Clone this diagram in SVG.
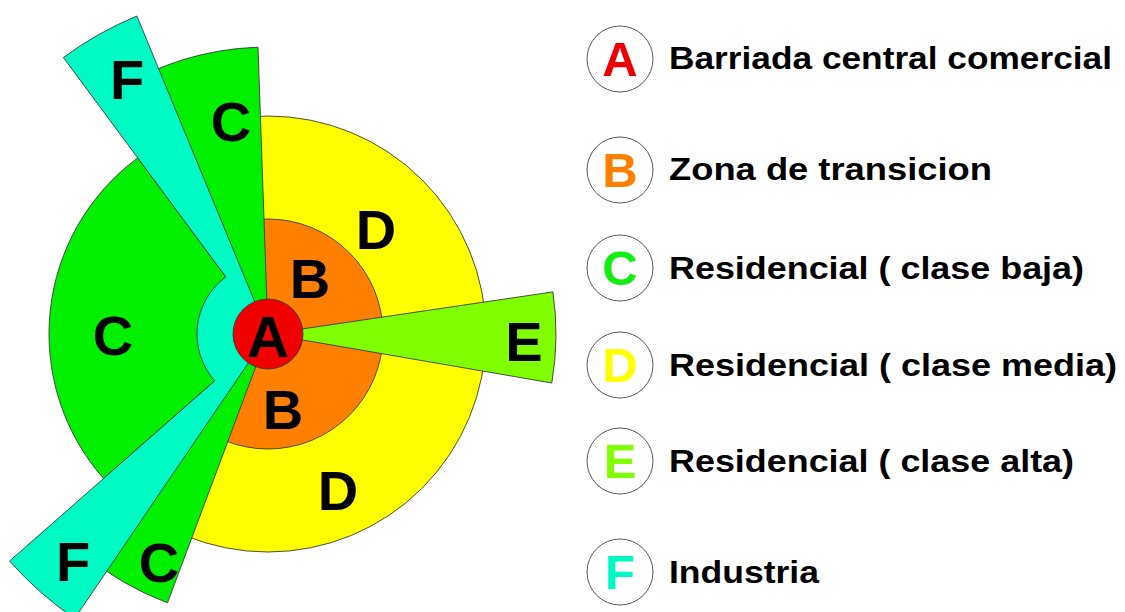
<svg xmlns="http://www.w3.org/2000/svg" width="1125" height="612" viewBox="0 0 1125 612">
<style>
.zone{stroke:#3a3a3a;stroke-width:0.9}
.lbl{font-family:"Liberation Sans",Arial,sans-serif;font-weight:bold;font-size:56px;fill:#000;text-anchor:middle}
.key{fill:#fff;stroke:#444;stroke-width:0.9}
.kl{font-family:"Liberation Sans",Arial,sans-serif;font-weight:bold;font-size:49px;text-anchor:middle}
.kt{font-family:"Liberation Sans",Arial,sans-serif;font-weight:bold;font-size:32px;fill:#000}
</style>
<rect width="1125" height="612" fill="#fff"/>
<g id="diagram">
  <g id="zone-D"><circle class="zone" cx="268" cy="334" r="218" fill="#ffff00"/></g>
  <g id="zone-B"><circle class="zone" cx="268" cy="334" r="115" fill="#ff8000"/></g>
  <g id="zone-C-left"><path class="zone" fill="#00f000" d="M268,334 L103.5,478.5 A219,219 0 0 1 137.7,157.9 Z"/></g>
  <g id="zone-C-top"><path class="zone" fill="#00f000" d="M268,334 L115.9,90.6 A287,287 0 0 1 258.0,47.2 Z"/></g>
  <g id="zone-C-bottom"><path class="zone" fill="#00f000" d="M268,334 L167.5,602.8 A287,287 0 0 1 83.5,553.8 Z"/></g>
  <g id="zone-F"><path class="zone" fill="#00fac4" d="M268,334 L136.9,16.0 A344,344 0 0 0 63.4,57.5 L225.8,276.9 A71,71 0 0 0 214.7,380.9 L9.6,561.0 A344,344 0 0 0 74.6,618.5 Z"/></g>
  <g id="zone-E"><path class="zone" fill="#80ff00" d="M268,334 L552.9,291.9 A288,288 0 0 1 551.8,383.0 Z"/></g>
  <g id="zone-A"><circle class="zone" cx="268" cy="334" r="35" fill="#f00000"/></g>
  <g id="labels">
    <text class="lbl" x="127" y="99">F</text>
    <text class="lbl" x="231" y="141">C</text>
    <text class="lbl" x="113" y="355">C</text>
    <text class="lbl" x="73" y="581">F</text>
    <text class="lbl" x="159" y="582">C</text>
    <text class="lbl" x="524" y="361">E</text>
    <text class="lbl" x="268" y="357" style="font-size:58px">A</text>
    <text class="lbl" x="310" y="298">B</text>
    <text class="lbl" x="376" y="249">D</text>
    <text class="lbl" x="283" y="429">B</text>
    <text class="lbl" x="338" y="510">D</text>
  </g>
</g>
<g id="connectors"></g>
<g id="legend">
  <g id="key-A"><circle class="key" cx="620" cy="59" r="33"/><text class="kl" x="620" y="76" fill="#ee0000">A</text><text class="kt" x="669" y="69" textLength="443" lengthAdjust="spacingAndGlyphs">Barriada central comercial</text></g>
  <g id="key-B"><circle class="key" cx="620" cy="170" r="33"/><text class="kl" x="620" y="187" fill="#ff8000">B</text><text class="kt" x="669" y="180" textLength="323" lengthAdjust="spacingAndGlyphs">Zona de transicion</text></g>
  <g id="key-C"><circle class="key" cx="620" cy="268" r="33"/><text class="kl" x="620" y="285" fill="#11ee11">C</text><text class="kt" x="669" y="279" textLength="415" lengthAdjust="spacingAndGlyphs">Residencial ( clase baja)</text></g>
  <g id="key-D"><circle class="key" cx="620" cy="365" r="33"/><text class="kl" x="620" y="382" fill="#ffff00">D</text><text class="kt" x="669" y="376" textLength="448" lengthAdjust="spacingAndGlyphs">Residencial ( clase media)</text></g>
  <g id="key-E"><circle class="key" cx="620" cy="461" r="33"/><text class="kl" x="620" y="478" fill="#80ff00">E</text><text class="kt" x="669" y="472" textLength="405" lengthAdjust="spacingAndGlyphs">Residencial ( clase alta)</text></g>
  <g id="key-F"><circle class="key" cx="620" cy="572" r="33"/><text class="kl" x="620" y="589" fill="#00f8c4">F</text><text class="kt" x="669" y="583" textLength="150" lengthAdjust="spacingAndGlyphs">Industria</text></g>
</g>
</svg>
